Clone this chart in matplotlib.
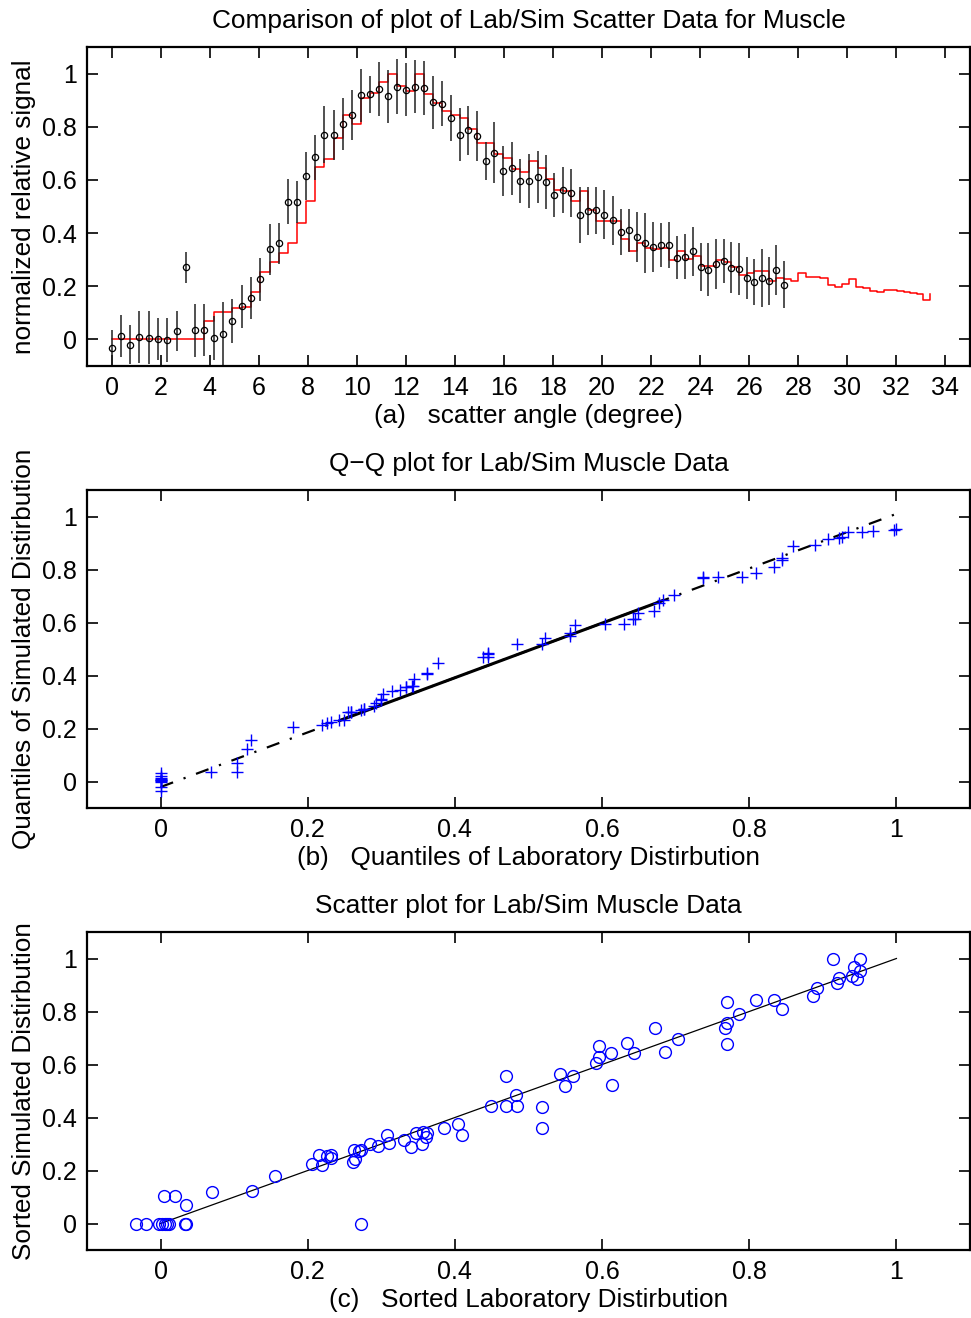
import numpy as np
import matplotlib
matplotlib.use("Agg")
import matplotlib.pyplot as plt

plt.rcParams['font.family'] = ['Liberation Sans', 'DejaVu Sans']
plt.rcParams['font.size'] = 18

# scatter angle of the lab points (degree)
angle = [0.00, 0.38, 0.76, 1.12, 1.52, 1.90, 2.27, 2.65, 3.03, 3.41,
         3.79, 4.17, 4.55, 4.93, 5.31, 5.69, 6.07, 6.45, 6.81, 7.19,
         7.56, 7.94, 8.30, 8.68, 9.05, 9.43, 9.80, 10.18, 10.54, 10.92,
         11.29, 11.64, 12.00, 12.37, 12.74, 13.10, 13.47, 13.83, 14.19, 14.55,
         14.90, 15.26, 15.60, 15.95, 16.31, 16.67, 17.00, 17.37, 17.71, 18.05,
         18.39, 18.72, 19.08, 19.41, 19.74, 20.09, 20.43, 20.77, 21.10, 21.44,
         21.76, 22.09, 22.41, 22.72, 23.05, 23.37, 23.70, 24.02, 24.33, 24.65,
         24.96, 25.27, 25.58, 25.91, 26.20, 26.50, 26.81, 27.11, 27.41]

# lab signal and error
lab = [-0.034, 0.012, -0.020, 0.009, 0.006, 0.002, -0.002, 0.033, 0.272, 0.034,
       0.035, 0.004, 0.020, 0.070, 0.124, 0.155, 0.226, 0.340, 0.361, 0.518,
       0.518, 0.614, 0.685, 0.770, 0.770, 0.809, 0.845, 0.919, 0.922, 0.942,
       0.914, 0.950, 0.940, 0.951, 0.946, 0.892, 0.887, 0.834, 0.770, 0.786,
       0.767, 0.672, 0.703, 0.634, 0.643, 0.596, 0.596, 0.612, 0.592, 0.543,
       0.561, 0.550, 0.469, 0.483, 0.485, 0.469, 0.449, 0.404, 0.410, 0.385,
       0.362, 0.347, 0.356, 0.355, 0.308, 0.311, 0.331, 0.272, 0.263, 0.284,
       0.295, 0.270, 0.264, 0.231, 0.215, 0.232, 0.220, 0.261, 0.206]

lab_err = [0.069, 0.080, 0.074, 0.097, 0.100, 0.080, 0.082, 0.075, 0.058, 0.100,
           0.098, 0.083, 0.120, 0.083, 0.080, 0.079, 0.082, 0.096, 0.077, 0.085,
           0.079, 0.090, 0.085, 0.108, 0.094, 0.098, 0.093, 0.100, 0.069, 0.102,
           0.100, 0.103, 0.100, 0.100, 0.100, 0.100, 0.086, 0.086, 0.100, 0.092,
           0.094, 0.072, 0.115, 0.094, 0.100, 0.084, 0.102, 0.098, 0.100, 0.082,
           0.086, 0.090, 0.106, 0.090, 0.090, 0.092, 0.092, 0.086, 0.082, 0.094,
           0.113, 0.094, 0.082, 0.085, 0.080, 0.084, 0.093, 0.091, 0.100, 0.094,
           0.083, 0.097, 0.097, 0.080, 0.087, 0.110, 0.090, 0.093, 0.088]

# simulated signal at the lab angles
sim = [0.0, 0.0, 0.0, 0.0, 0.0, 0.0, 0.0, 0.0, 0.0, 0.0,
       0.069, 0.104, 0.104, 0.117, 0.123, 0.180, 0.255, 0.290, 0.325, 0.362,
       0.438, 0.522, 0.649, 0.677, 0.758, 0.844, 0.809, 0.907, 0.926, 0.968,
       0.997, 0.953, 0.934, 1.000, 0.922, 0.890, 0.859, 0.844, 0.834, 0.790,
       0.737, 0.737, 0.698, 0.683, 0.642, 0.630, 0.670, 0.645, 0.604, 0.563,
       0.557, 0.519, 0.557, 0.485, 0.445, 0.445, 0.445, 0.377, 0.334, 0.362,
       0.343, 0.342, 0.344, 0.299, 0.333, 0.302, 0.314, 0.277, 0.277, 0.299,
       0.293, 0.272, 0.243, 0.249, 0.259, 0.259, 0.220, 0.232, 0.226]

# simulation continues past the lab range
sim_angle_tail = [27.71, 27.98, 28.32, 28.60, 28.90, 29.20, 29.50, 29.78, 30.05, 30.35,
                  30.62, 30.92, 31.20, 31.48, 31.75, 32.02, 32.29, 32.56, 32.83, 33.10, 33.37]
sim_tail = [0.220, 0.251, 0.236, 0.236, 0.230, 0.205, 0.196, 0.208, 0.226, 0.196,
            0.192, 0.182, 0.177, 0.186, 0.186, 0.184, 0.177, 0.174, 0.172, 0.148, 0.172]

W, H = 971, 1318
fig = plt.figure(figsize=(W / 100, H / 100), dpi=100)

TITLE = 18.9
LABEL = 18.8


def make_ax(top, bottom):
    ax = fig.add_axes([87 / W, 1 - bottom / H, (970 - 87) / W, (bottom - top) / H])
    ax.tick_params(direction='in', top=True, right=True, length=8, width=1.2, pad=7.5)
    for s in ax.spines.values():
        s.set_linewidth(1.6)
    return ax


def fmt(v):
    return f"{v:g}"


yt = [0, 0.2, 0.4, 0.6, 0.8, 1]

# (a) step + errorbar
ax1 = make_ax(47, 366)
ax1.step(angle + sim_angle_tail, sim + sim_tail, where='post', color='red', lw=1.1)
ax1.errorbar(angle, lab, yerr=lab_err, fmt='o', ms=4.5, mfc='none', mec='black',
             mew=0.9, ecolor='#202020', elinewidth=1.1, capsize=0)
ax1.set_xlim(-1, 35)
ax1.set_ylim(-0.1, 1.1)
ax1.set_xticks(range(0, 35, 2))
ax1.set_yticks(yt)
ax1.set_yticklabels([fmt(v) for v in yt])
ax1.set_title("Comparison of plot of Lab/Sim Scatter Data for Muscle", fontsize=TITLE, pad=14)
ax1.set_xlabel("(a)   scatter angle (degree)", fontsize=LABEL, labelpad=2.5)
ax1.set_ylabel("normalized relative signal", fontsize=LABEL, labelpad=4)

# (b) Q-Q plot
qx = np.sort(sim)
qy = np.sort(lab)
q1x, q3x = np.percentile(qx, [25, 75], method='hazen')
q1y, q3y = np.percentile(qy, [25, 75], method='hazen')
slope = (q3y - q1y) / (q3x - q1x)
ext = np.array([qx.min(), qx.max()])
mid = np.array([q1x, q3x])

ax2 = make_ax(490, 808)
ax2.plot(ext, q1y + slope * (ext - q1x), color='black', ls=(0, (6, 5, 1, 5)), lw=1.6)
ax2.plot(mid, q1y + slope * (mid - q1x), color='black', ls='-', lw=2.2)
ax2.plot(qx, qy, '+', color='blue', ms=9, mew=1)
ax2.set_xlim(-0.1, 1.1)
ax2.set_ylim(-0.1, 1.1)
ax2.set_xticks(yt)
ax2.set_xticklabels([fmt(v) for v in yt])
ax2.set_yticks(yt)
ax2.set_yticklabels([fmt(v) for v in yt])
ax2.set_title("Q\u2212Q plot for Lab/Sim Muscle Data", fontsize=TITLE, pad=14)
ax2.set_xlabel("(b)   Quantiles of Laboratory Distirbution", fontsize=LABEL, labelpad=2.5)
ax2.set_ylabel("Quantiles of Simulated Distirbution", fontsize=LABEL, labelpad=4)

# (c) scatter
ax3 = make_ax(932, 1250)
ax3.plot([0, 1], [0, 1], color='black', lw=0.9)
ax3.plot(lab, sim, 'o', ms=8.5, mfc='none', mec='blue', mew=1)
ax3.set_xlim(-0.1, 1.1)
ax3.set_ylim(-0.1, 1.1)
ax3.set_xticks(yt)
ax3.set_xticklabels([fmt(v) for v in yt])
ax3.set_yticks(yt)
ax3.set_yticklabels([fmt(v) for v in yt])
ax3.set_title("Scatter plot for Lab/Sim Muscle Data", fontsize=TITLE, pad=14)
ax3.set_xlabel("(c)   Sorted Laboratory Distirbution", fontsize=LABEL, labelpad=2.5)
ax3.set_ylabel("Sorted Simulated Distirbution", fontsize=LABEL, labelpad=4)

fig.savefig("out.png", dpi=100)
